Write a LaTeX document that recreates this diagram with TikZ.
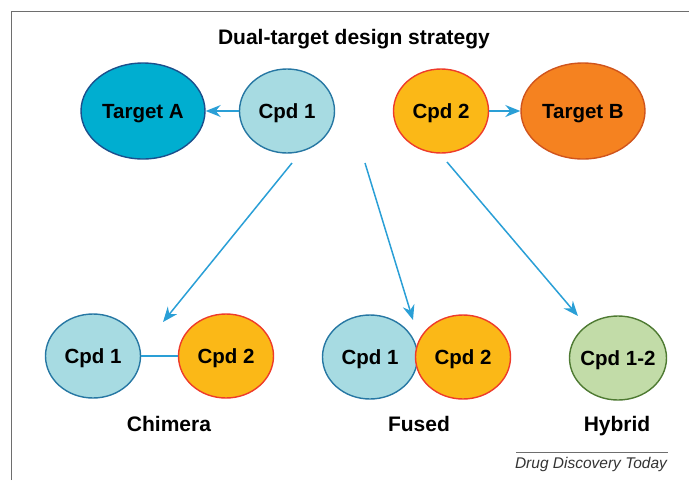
\documentclass[tikz,border=0pt]{standalone}
\usepackage{fontspec}
\setmainfont{Liberation Sans}
\usetikzlibrary{arrows.meta,shapes.geometric}
\definecolor{tAfill}{HTML}{00AED0}
\definecolor{tAdraw}{HTML}{1B4F8C}
\definecolor{c1fill}{HTML}{A7DBE2}
\definecolor{c1draw}{HTML}{2677A3}
\definecolor{c2fill}{HTML}{FBB817}
\definecolor{c2draw}{HTML}{EE3B2A}
\definecolor{tBfill}{HTML}{F58220}
\definecolor{tBdraw}{HTML}{D0541C}
\definecolor{hyfill}{HTML}{C2DCA8}
\definecolor{hydraw}{HTML}{4E7A32}
\definecolor{arr}{HTML}{2A9FD6}
\definecolor{frame}{HTML}{6E6E6E}
\tikzset{
  blob/.style={ellipse, line width=1.4pt, font=\bfseries\fontsize{20.5}{24}\selectfont, inner sep=0pt, inner xsep=-12pt, text depth=0pt},
  tgtA/.style={blob, fill=tAfill, draw=tAdraw, minimum width=124pt, minimum height=96pt},
  tgtB/.style={blob, fill=tBfill, draw=tBdraw, minimum width=124pt, minimum height=96pt},
  cpdone/.style={blob, fill=c1fill, draw=c1draw, minimum width=95pt, minimum height=84pt},
  cpdtwo/.style={blob, fill=c2fill, draw=c2draw, minimum width=95pt, minimum height=84pt},
  hyb/.style={blob, fill=hyfill, draw=hydraw, minimum width=97pt, minimum height=84pt},
  conn/.style={draw=arr, line width=1.5pt, -{Stealth[length=15pt,width=12pt,inset=5pt]}},
  lab/.style={font=\bfseries\fontsize{21}{24}\selectfont, text depth=0pt},
}
\begin{document}
\begin{tikzpicture}[x=1pt,y=-1pt]
\useasboundingbox (0,0) rectangle (689,480);
\draw[frame, line width=1.5pt] (11.5,480) -- (11.5,11.5) -- (689,11.5);
\node[font=\bfseries\fontsize{21}{24}\selectfont, text depth=0pt] (title) at (354,37) {Dual-target design strategy};
\node[tgtA] (ta) at (143,111) {Target A};
\node[cpdone] (c1) at (287,111) {Cpd 1};
\node[cpdtwo] (c2) at (441,111) {Cpd 2};
\node[tgtB] (tb) at (583,111) {Target B};
\draw[conn] (c1) -- (ta);
\draw[conn] (c2) -- (tb);
% bottom row
\node[cpdone] (ch1) at (93,356) {Cpd 1};
\node[cpdtwo] (ch2) at (226,356) {Cpd 2};
\draw[draw=arr, line width=1.5pt] (ch1) -- (ch2);
\node[cpdone] (f1) at (370,357) {Cpd 1};
\node[cpdtwo] (f2) at (463,357) {Cpd 2};
\node[hyb] (h) at (618,358) {Cpd 1-2};
\node[lab] (lc) at (169,424) {Chimera};
\node[lab] (lf) at (419,424) {Fused};
\node[lab] (lh) at (617,424) {Hybrid};
% diagonal arrows
\coordinate (s1) at (292,163);
\coordinate (e1) at (163,322);
\coordinate (s2) at (365,163);
\coordinate (e2) at (413,320);
\coordinate (s3) at (447,162);
\coordinate (e3) at (578,316);
\draw[conn] (s1) -- (e1);
\draw[conn] (s2) -- (e2);
\draw[conn] (s3) -- (e3);
% source
\coordinate (r1) at (516,452);
\coordinate (r2) at (668,452);
\draw[frame, line width=1pt] (r1) -- (r2);
\node[font=\itshape\fontsize{15.5}{18}\selectfont, text=black!80] (src) at (591,464) {Drug Discovery Today};
\end{tikzpicture}
\end{document}
